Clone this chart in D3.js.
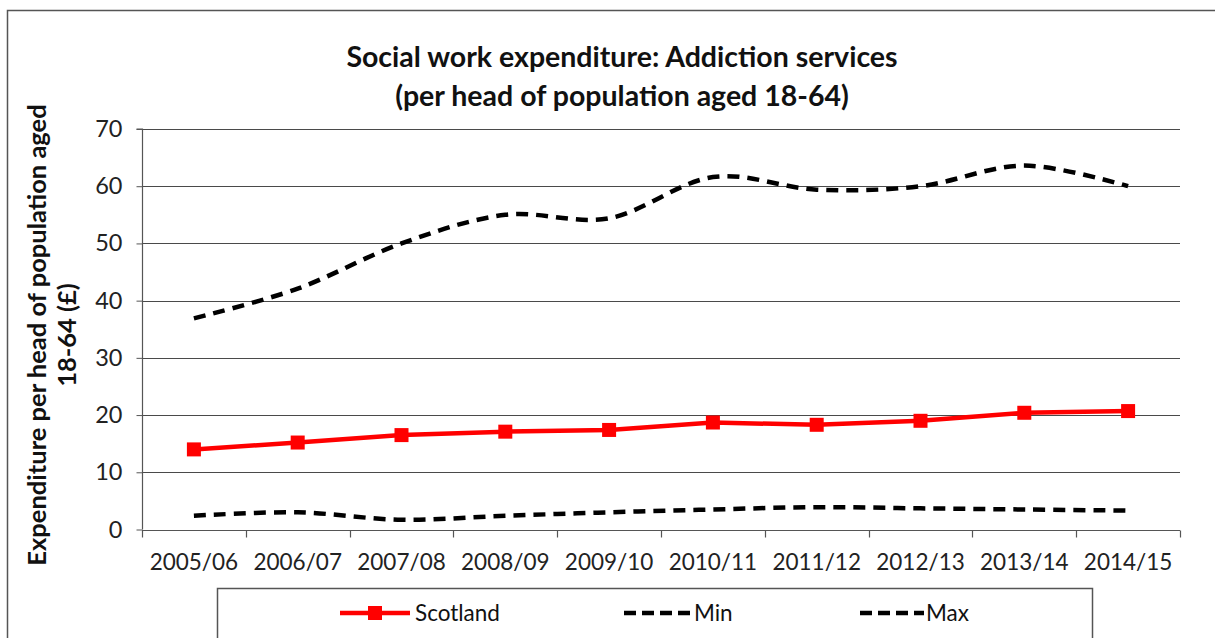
<!DOCTYPE html>
<html><head><meta charset="utf-8">
<script src="https://cdn.jsdelivr.net/npm/d3@7"></script>
<style>
html,body{margin:0;padding:0;background:#fff;}
svg{display:block;font-family:Lato, "Open Sans", sans-serif;}
</style></head>
<body><svg id="chart" width="1215" height="638"></svg>
<script>
const categories = ["2005/06","2006/07","2007/08","2008/09","2009/10","2010/11","2011/12","2012/13","2013/14","2014/15"];
const scotland = [14.0, 15.2, 16.5, 17.1, 17.4, 18.7, 18.3, 19.0, 20.4, 20.7];
const minVals = [2.4, 3.0, 1.7, 2.4, 3.0, 3.5, 3.9, 3.7, 3.5, 3.3];
const maxVals = [36.9, 42.1, 50.0, 55.0, 54.4, 61.6, 59.4, 60.0, 63.6, 60.0];
const yTicks = [0, 10, 20, 30, 40, 50, 60, 70];
const titleLines = ["Social work expenditure: Addiction services", "(per head of population aged 18-64)"];
const yTitleLines = ["Expenditure per head of population aged", "18-64 (£)"];
const legendNames = ["Scotland", "Min", "Max"];

const svg = d3.select("#chart");
const m = {left: 142, right: 1180, top: 129, bottom: 529.5};

// outer chart border
svg.append("path").attr("d", "M1230,10.5 H7.5 V650").attr("fill","none").attr("stroke","#555").attr("stroke-width",1.5);

const x = d3.scaleBand().domain(categories).range([m.left, m.right]);
const y = d3.scaleLinear().domain([0, 70]).range([m.bottom, m.top]);

// gridlines
svg.append("g").selectAll("line").data(yTicks.filter(d => d > 0)).join("line")
  .attr("x1", m.left).attr("x2", m.right)
  .attr("y1", d => Math.round(y(d)) + 0.5).attr("y2", d => Math.round(y(d)) + 0.5)
  .attr("stroke", "#4a4a4a").attr("stroke-width", 1.2);

// y axis
const yAxis = d3.axisLeft(y).tickValues(yTicks).tickSize(6).tickPadding(14);
const gy = svg.append("g").attr("transform", `translate(${m.left + 0.5},0)`).call(yAxis);
gy.selectAll(".tick line").attr("stroke", "#555");
gy.select(".domain").attr("stroke", "#555").attr("stroke-width", 1.2).attr("d", `M-6,${m.top}H0V${m.bottom}`);
gy.selectAll("text").attr("font-size", 23.5).attr("fill", "#222").attr("font-family", "Lato");

// x axis
const xAxis = d3.axisBottom(x).tickSize(0).tickPadding(24);
const gx = svg.append("g").attr("transform", `translate(0,${Math.round(m.bottom)+0.5})`).call(xAxis);
gx.select(".domain").attr("stroke", "#555").attr("stroke-width", 1.2).attr("d", `M${m.left},0H${m.right}`);
gx.selectAll("text").attr("font-size", 22.5).attr("fill", "#222").attr("font-family", "Lato");
// tick marks at category boundaries
const bounds = categories.map(c => x(c)).concat([m.right]);
gx.append("g").selectAll("line").data(bounds).join("line")
  .attr("x1", d => Math.round(d) + 0.5).attr("x2", d => Math.round(d) + 0.5)
  .attr("y1", 0).attr("y2", 7).attr("stroke", "#555").attr("stroke-width", 1.2);

const cx = c => x(c) + x.bandwidth() / 2;

// smoothed dashed lines
const smooth = d3.line().x((d, i) => cx(categories[i])).y(d => y(d)).curve(d3.curveCatmullRom.alpha(0));
[maxVals, minVals].forEach(vals => {
  svg.append("path").datum(vals).attr("d", smooth)
    .attr("fill", "none").attr("stroke", "#000").attr("stroke-width", 4.5)
    .attr("stroke-dasharray", "12,8").attr("stroke-linecap", "butt");
});

// Scotland line
const straight = d3.line().x((d, i) => cx(categories[i])).y(d => y(d));
svg.append("path").datum(scotland).attr("d", straight)
  .attr("fill", "none").attr("stroke", "#ff0000").attr("stroke-width", 4.5);
svg.append("g").selectAll("rect").data(scotland).join("rect")
  .attr("x", (d, i) => cx(categories[i]) - 7).attr("y", d => y(d) - 7)
  .attr("width", 14).attr("height", 14).attr("fill", "#ff0000");

// title
svg.append("g").selectAll("text").data(titleLines).join("text")
  .attr("x", 622).attr("y", (d, i) => 67 + i * 39)
  .attr("text-anchor", "middle").attr("font-size", 28.5).attr("font-weight", "bold").attr("fill", "#111")
  .text(d => d);

// y-axis title
svg.append("g").selectAll("text").data(yTitleLines).join("text")
  .attr("transform", (d, i) => `translate(${46 + i * 30},335) rotate(-90)`)
  .attr("text-anchor", "middle").attr("font-size", 25.5).attr("font-weight", "bold").attr("fill", "#111")
  .text(d => d);

// legend
svg.append("rect").attr("x", 217.5).attr("y", 588.5).attr("width", 875).attr("height", 80)
  .attr("fill", "#fff").attr("stroke", "#555").attr("stroke-width", 1.5);
const legY = 613;
const leg = svg.append("g");
// Scotland
leg.append("line").attr("x1", 340).attr("x2", 410).attr("y1", legY).attr("y2", legY)
  .attr("stroke", "#ff0000").attr("stroke-width", 4.5);
leg.append("rect").attr("x", 368).attr("y", legY - 7).attr("width", 14).attr("height", 14).attr("fill", "#ff0000");
// Min, Max
[[624, 690], [860, 924]].forEach(([a, b]) => {
  leg.append("line").attr("x1", a).attr("x2", b).attr("y1", legY).attr("y2", legY)
    .attr("stroke", "#000").attr("stroke-width", 4.5).attr("stroke-dasharray", "12,6");
});
leg.selectAll("text").data(legendNames).join("text")
  .attr("x", (d, i) => [415, 694, 926][i]).attr("y", legY + 8)
  .attr("font-size", 22.5).attr("fill", "#111").text(d => d);
</script>
</body></html>
